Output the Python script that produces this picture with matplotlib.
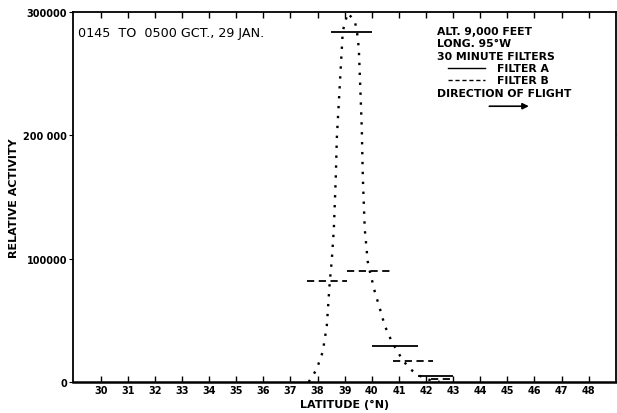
import matplotlib
matplotlib.use("Agg")
import matplotlib.pyplot as plt
from matplotlib.ticker import FixedLocator

# Dotted curve (relative activity vs latitude)
curve_lat = [37.67, 37.82, 37.97, 38.19, 38.34, 38.45, 38.52, 38.60, 38.67, 38.71,
             38.93, 39.11, 39.37, 39.45, 39.52, 39.59, 39.63, 39.67, 39.74, 39.85,
             39.93, 40.11, 40.30, 40.48, 40.74, 41.11, 41.40, 41.77, 42.14, 42.50]
curve_val = [0, 4900, 10600, 24400, 45500, 81300, 97600, 124000, 165000, 197600,
             284500, 299000, 292700, 284500, 270700, 230000, 205700, 165000, 124000, 97600,
             89400, 73200, 59300, 45500, 32500, 18700, 10600, 4900, 1600, 0]

# Filter A (solid) segments: start lat, end lat, value
filter_a_start = [38.5, 40.0, 41.7]
filter_a_end = [40.0, 41.7, 43.0]
filter_a_val = [284000, 29000, 4500]

# Filter B (dashed) segments
filter_b_start = [37.6, 39.1, 40.8, 42.2]
filter_b_end = [39.1, 40.8, 42.25, 43.0]
filter_b_val = [82000, 90000, 17000, 2500]

x_ticks = list(range(30, 49))
y_ticks = [0, 100000, 200000, 300000]
y_ticklabels = ["0", "100000", "200 000", "300000"]

plt.rcParams['font.family'] = ['DejaVu Sans']
fig = plt.figure(figsize=(6.17, 4.14), dpi=100)
ax = fig.add_axes([0.118, 0.075, 0.880, 0.894])

ax.plot(curve_lat, curve_val, linestyle=(0, (1, 3.2)), color='black', lw=1.7)

for s, e, v in zip(filter_a_start, filter_a_end, filter_a_val):
    ax.plot([s, e], [v, v], color='black', lw=1.3, solid_capstyle='butt')
for s, e, v in zip(filter_b_start, filter_b_end, filter_b_val):
    ax.plot([s, e], [v, v], color='black', lw=1.3, linestyle=(0, (4, 2.5)))

ax.set_xlim(28.97, 49.0)
ax.set_ylim(0, 300000)

ax.xaxis.set_major_locator(FixedLocator(x_ticks))
ax.set_xticklabels([str(t) for t in x_ticks], fontsize=7, fontweight='bold')
ax.yaxis.set_major_locator(FixedLocator(y_ticks))
ax.set_yticklabels(y_ticklabels, fontsize=7, fontweight='bold')
ax.tick_params(axis='x', direction='in', length=4, width=1, top=True, pad=2)
ax.tick_params(axis='y', direction='out', length=3, width=0.8, right=True, pad=1)

for sp in ax.spines.values():
    sp.set_linewidth(1.3)
ax.spines['bottom'].set_linewidth(1.8)

ax.set_xlabel("LATITUDE (°N)", fontsize=8, fontweight='bold', labelpad=3)
ax.set_ylabel("RELATIVE ACTIVITY", fontsize=8, fontweight='bold')
ax.yaxis.set_label_coords(-0.100, 0.5)

ax.text(0.01, 0.943, "0145  TO  0500 GCT., 29 JAN.", transform=ax.transAxes,
        fontsize=9.2, va='center', ha='left')

tx = 0.670
fs = 7.8
ax.text(tx, 0.948, "ALT. 9,000 FEET", transform=ax.transAxes, fontsize=fs, fontweight='bold', va='center')
ax.text(tx, 0.916, "LONG. 95°W", transform=ax.transAxes, fontsize=fs, fontweight='bold', va='center')
ax.text(tx, 0.882, "30 MINUTE FILTERS", transform=ax.transAxes, fontsize=fs, fontweight='bold', va='center')
ax.text(0.781, 0.849, "FILTER A", transform=ax.transAxes, fontsize=fs, fontweight='bold', va='center')
ax.text(0.781, 0.815, "FILTER B", transform=ax.transAxes, fontsize=fs, fontweight='bold', va='center')
ax.text(tx, 0.781, "DIRECTION OF FLIGHT", transform=ax.transAxes, fontsize=fs, fontweight='bold', va='center')
ax.plot([0.691, 0.759], [0.849, 0.849], transform=ax.transAxes, color='black', lw=1.0)
ax.plot([0.691, 0.759], [0.815, 0.815], transform=ax.transAxes, color='black', lw=1.0,
        linestyle=(0, (3, 2)))
ax.annotate("", xy=(0.845, 0.745), xytext=(0.762, 0.745), xycoords='axes fraction',
            arrowprops=dict(arrowstyle='-|>', color='black', lw=1.2, mutation_scale=9))

fig.savefig("out.png", dpi=100)
